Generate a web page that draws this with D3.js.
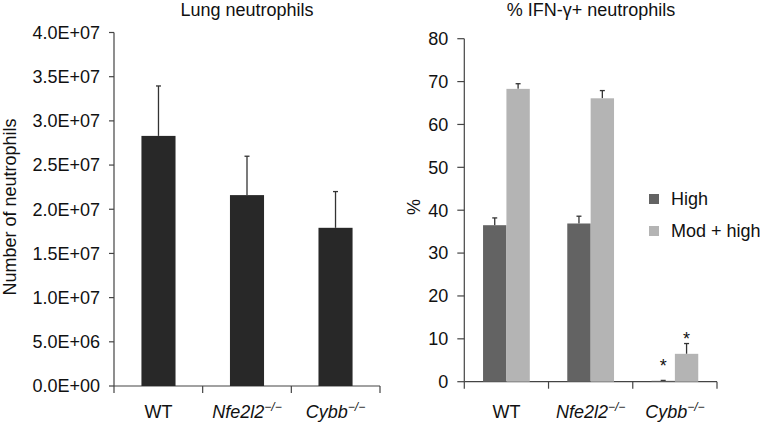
<!DOCTYPE html>
<html><head><meta charset="utf-8">
<script src="https://cdn.jsdelivr.net/npm/d3@7"></script>
<style>
body{margin:0;background:#fff;}
svg{font-family:"Liberation Sans",Arial,sans-serif;}
</style></head>
<body>
<svg id="c" width="762" height="423"></svg>
<script>
const categories = ["WT", "Nfe2l2", "Cybb"];
const neutroValues = [2.83e7, 2.16e7, 1.79e7];
const neutroErrors = [0.565e7, 0.44e7, 0.41e7];
const seriesNames = ["High", "Mod + high"];
const highValues = [36.5, 36.9, 0.2];
const highErrors = [1.7, 1.7, 0.1];
const modValues = [68.3, 66.1, 6.5];
const modErrors = [1.2, 1.8, 2.4];
const leftTicks = [0, 5e6, 1e7, 1.5e7, 2e7, 2.5e7, 3e7, 3.5e7, 4e7];
const rightTicks = [0, 10, 20, 30, 40, 50, 60, 70, 80];
// asterisk (significance) positions in % units, null = none
const asteriskAt = [[null, null], [null, null], [4.8, 11.1]];

const svg = d3.select("#c");
const axisColor = "#444";
const fs = 18;

function xLabel(g, x, y, cat) {
  const t = g.append("text").attr("x", x).attr("y", y).attr("text-anchor", "middle")
    .attr("font-size", fs).attr("fill", "#111");
  if (cat === "WT") { t.text("WT"); return; }
  t.append("tspan").attr("font-style", "italic").text(cat);
  t.append("tspan").attr("font-style", "italic").attr("font-size", 12).attr("dy", -7).text("\u2212/\u2212");
}

function drawAxes(g, x, y, ticks, fmt, tickLen, gap) {
  const [x0, x1] = x.range();
  const [y0, y1] = y.range();
  g.append("line").attr("x1", x0).attr("x2", x0).attr("y1", y0).attr("y2", y1).attr("stroke", axisColor).attr("stroke-width", 1.2);
  g.append("line").attr("x1", x0).attr("x2", x1).attr("y1", y0).attr("y2", y0).attr("stroke", axisColor).attr("stroke-width", 1.2);
  ticks.forEach(v => {
    g.append("line").attr("x1", x0 - tickLen).attr("x2", x0).attr("y1", y(v)).attr("y2", y(v)).attr("stroke", axisColor).attr("stroke-width", 1.2);
    g.append("text").attr("x", x0 - tickLen - gap).attr("y", y(v)).attr("dy", "0.35em").attr("text-anchor", "end")
      .attr("font-size", fs).attr("fill", "#111").text(fmt(v));
  });
  for (let i = 0; i <= categories.length; i++) {
    const e = x0 + i * (x1 - x0) / categories.length;
    g.append("line").attr("x1", e).attr("x2", e).attr("y1", y0).attr("y2", y0 + 7).attr("stroke", axisColor).attr("stroke-width", 1.2);
  }
}

// Left chart
(function(){
  const g = svg.append("g");
  const x = d3.scaleBand().domain(categories).range([114, 380]).paddingInner(0.615).paddingOuter(0.31);
  const y = d3.scaleLinear().domain([0, 4e7]).range([386, 32.5]);
  const fmt = v => { const e = v === 0 ? 0 : Math.floor(Math.log10(v)); const m = v === 0 ? 0 : v / Math.pow(10, e); return m.toFixed(1) + "E+" + String(e).padStart(2, "0"); };
  drawAxes(g, x, y, leftTicks, fmt, 5, 9);
  categories.forEach((c, i) => {
    const bx = x(c), bw = x.bandwidth();
    const cx = bx + bw / 2;
    g.append("line").attr("x1", cx).attr("x2", cx).attr("y1", y(neutroValues[i])).attr("y2", y(neutroValues[i] + neutroErrors[i])).attr("stroke", "#333").attr("stroke-width", 1.3);
    g.append("line").attr("x1", cx - 2.5).attr("x2", cx + 2.5).attr("y1", y(neutroValues[i] + neutroErrors[i])).attr("y2", y(neutroValues[i] + neutroErrors[i])).attr("stroke", "#333").attr("stroke-width", 1.3);
    g.append("rect").attr("x", bx).attr("y", y(neutroValues[i])).attr("width", bw).attr("height", y(0) - y(neutroValues[i])).attr("fill", "#282828");
    xLabel(g, x(c) + bw / 2, 418, c);
  });
  g.append("text").attr("x", 247).attr("y", 16).attr("text-anchor", "middle").attr("font-size", fs).attr("fill", "#111").text("Lung neutrophils");
  g.append("text").attr("transform", "translate(16,207) rotate(-90)").attr("text-anchor", "middle").attr("font-size", fs).attr("fill", "#111").text("Number of neutrophils");
})();

// Right chart
(function(){
  const g = svg.append("g");
  const x = d3.scaleBand().domain(categories).range([464.3, 717]).paddingInner(0.445).paddingOuter(0.2225);
  const x1 = d3.scaleBand().domain(seriesNames).range([0, x.bandwidth()]);
  const y = d3.scaleLinear().domain([0, 80]).range([381.7, 38.7]);
  drawAxes(g, x, y, rightTicks, d => String(d), 7, 9);
  const colors = {"High": "#636363", "Mod + high": "#b4b4b4"};
  const vals = {"High": highValues, "Mod + high": modValues};
  const errs = {"High": highErrors, "Mod + high": modErrors};
  categories.forEach((c, i) => {
    seriesNames.forEach((s, j) => {
      const bx = x(c) + x1(s), bw = x1.bandwidth();
      const cx = bx + bw / 2;
      const v = vals[s][i], e = errs[s][i];
      g.append("line").attr("x1", cx).attr("x2", cx).attr("y1", y(v)).attr("y2", y(v + e)).attr("stroke", "#333").attr("stroke-width", 1.3);
      g.append("line").attr("x1", cx - 2.5).attr("x2", cx + 2.5).attr("y1", y(v + e)).attr("y2", y(v + e)).attr("stroke", "#333").attr("stroke-width", 1.3);
      g.append("rect").attr("x", bx).attr("y", y(v)).attr("width", bw).attr("height", y(0) - y(v)).attr("fill", colors[s]);
      const a = asteriskAt[i][j];
      if (a !== null) {
        g.append("text").attr("x", cx).attr("y", y(a) + 10.5).attr("text-anchor", "middle").attr("font-size", 18).attr("fill", "#111").text("*");
      }
    });
    xLabel(g, x(c) + x.bandwidth() / 2, 418, c);
  });
  seriesNames.forEach((s, j) => {
    const ly = 199 + j * 32;
    g.append("rect").attr("x", 649).attr("y", ly - 5).attr("width", 10).attr("height", 10).attr("fill", colors[s]);
    g.append("text").attr("x", 671).attr("y", ly).attr("dy", "0.35em").attr("font-size", fs).attr("fill", "#111").text(s);
  });
  g.append("text").attr("x", 591).attr("y", 16).attr("text-anchor", "middle").attr("font-size", fs).attr("fill", "#111").text("% IFN-\u03b3+ neutrophils");
  g.append("text").attr("transform", "translate(420,207) rotate(-90)").attr("text-anchor", "middle").attr("font-size", fs).attr("fill", "#111").text("%");
})();
</script>
</body></html>
